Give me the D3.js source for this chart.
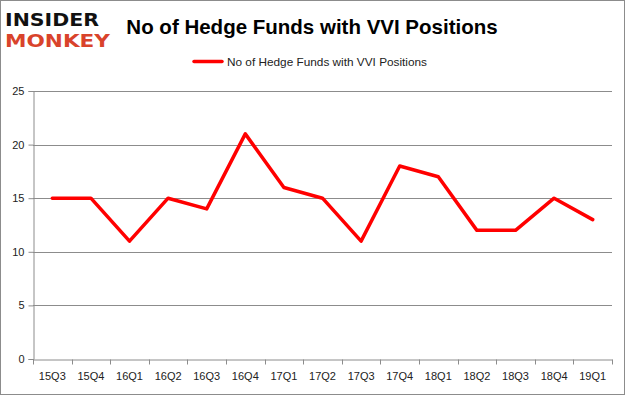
<!DOCTYPE html>
<html><head><meta charset="utf-8">
<script src="https://cdn.jsdelivr.net/npm/d3@7"></script>
<style>body{margin:0;background:#fff}svg{display:block}</style>
</head><body><svg id="c" width="625" height="395"></svg>
<script>
const categories = ["15Q3","15Q4","16Q1","16Q2","16Q3","16Q4","17Q1","17Q2","17Q3","17Q4","18Q1","18Q2","18Q3","18Q4","19Q1"];
const values = [15,15,11,15,14,21,16,15,11,18,17,12,12,15,13];
const yTicks = [0,5,10,15,20,25];
const seriesName = "No of Hedge Funds with VVI Positions";
const title = "No of Hedge Funds with VVI Positions";

const svg = d3.select("#c");
const W = 625, H = 395;
const m = {l:33, r:13, t:91, b:36};
const font = "'Liberation Sans', Arial, sans-serif";

svg.append("rect").attr("x",0.5).attr("y",0.5).attr("width",W-1).attr("height",H-1)
  .attr("fill","#fff").attr("stroke","#8c8c8c").attr("stroke-width",1);

const x = d3.scaleBand().domain(categories).range([m.l, W-m.r]);
const y = d3.scaleLinear().domain([0,25]).range([H-m.b, m.t]);

// gridlines
svg.append("g").selectAll("line").data(yTicks.filter(d=>d>0)).join("line")
  .attr("x1",m.l).attr("x2",W-m.r)
  .attr("y1",d=>Math.round(y(d))+0.5).attr("y2",d=>Math.round(y(d))+0.5)
  .attr("stroke","#8c8c8c").attr("stroke-width",1);

// y axis
const ya = svg.append("g").attr("transform",`translate(${m.l+0.5},0)`)
  .call(d3.axisLeft(y).tickValues(yTicks).tickSize(5).tickPadding(4));
ya.select(".domain").attr("stroke","#8c8c8c");
ya.selectAll(".tick line").attr("stroke","#8c8c8c");
ya.selectAll("text").attr("font-family",font).attr("font-size",11).attr("fill","#222");

// x axis
const xa = svg.append("g").attr("transform",`translate(0,${Math.round(y(0))+0.5})`)
  .call(d3.axisBottom(x).tickSize(0).tickPadding(13));
xa.select(".domain").attr("stroke","#8c8c8c");
xa.selectAll("text").attr("font-family",font).attr("font-size",11).attr("fill","#222");
// boundary ticks
const bounds = categories.map(c=>x(c)).concat([W-m.r]);
xa.append("g").selectAll("line").data(bounds).join("line")
  .attr("x1",d=>Math.round(d)+0.5).attr("x2",d=>Math.round(d)+0.5)
  .attr("y1",0).attr("y2",5).attr("stroke","#8c8c8c");

// line
const line = d3.line().x((d,i)=>x(categories[i])+x.bandwidth()/2).y(d=>y(d));
svg.append("path").datum(values).attr("d",line)
  .attr("fill","none").attr("stroke","#ff0000").attr("stroke-width",3.5)
  .attr("stroke-linejoin","round").attr("stroke-linecap","round");

// title
svg.append("text").attr("x",312).attr("y",34).attr("text-anchor","middle")
  .attr("font-family",font).attr("font-weight","bold").attr("font-size",20.5)
  .attr("fill","#000").text(title);

// legend
svg.append("line").attr("x1",194).attr("x2",222).attr("y1",61.5).attr("y2",61.5)
  .attr("stroke","#ff0000").attr("stroke-width",3.5).attr("stroke-linecap","round");
svg.append("text").attr("x",227).attr("y",65.5).attr("font-family",font)
  .attr("font-size",11.8).attr("fill","#222").text(seriesName);

// logo
svg.append("text").attr("x",5).attr("y",26).attr("font-family","'DejaVu Sans', sans-serif")
  .attr("font-weight","bold").attr("font-size",18).attr("textLength",94).attr("lengthAdjust","spacingAndGlyphs")
  .attr("fill","#111").text("INSIDER");
svg.append("text").attr("x",5).attr("y",47).attr("font-family","'DejaVu Sans', sans-serif")
  .attr("font-weight","bold").attr("font-size",18).attr("textLength",105).attr("lengthAdjust","spacingAndGlyphs")
  .attr("fill","#d9432b").text("MONKEY");
</script></body></html>
